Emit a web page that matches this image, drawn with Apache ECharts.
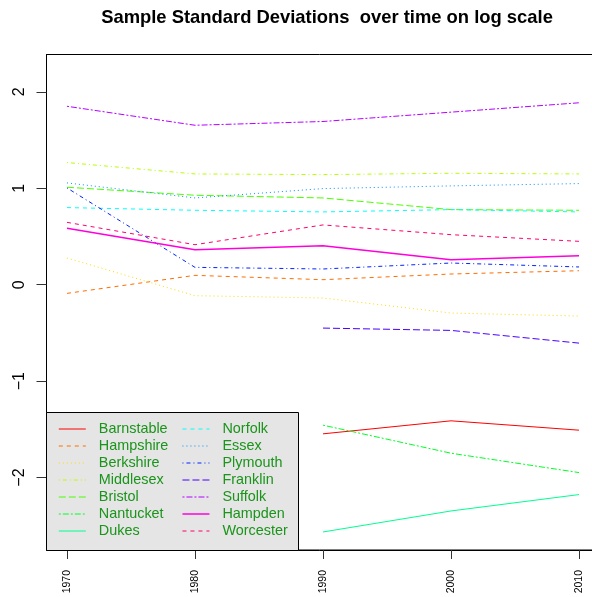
<!DOCTYPE html>
<html>
<head>
<meta charset="utf-8">
<script src="https://cdn.jsdelivr.net/npm/echarts@6/dist/echarts.min.js"></script>
<style>
  html, body { margin: 0; padding: 0; background: #fff; }
  #chart { width: 592px; height: 597px; }
</style>
</head>
<body>
<div id="chart"></div>
<script>
const years = [1970, 1980, 1990, 2000, 2010];
const yTicks = [-2, -1, 0, 1, 2];

const counties = [
  "Barnstable", "Hampshire", "Berkshire", "Middlesex", "Bristol", "Nantucket", "Dukes",
  "Norfolk", "Essex", "Plymouth", "Franklin", "Suffolk", "Hampden", "Worcester",
];

// log of sample sd, "-" where the county has no value
const barnstable = ["-", "-", -1.547, -1.412, -1.509];
const hampshire = [-0.09, 0.097, 0.052, 0.111, 0.145];
const berkshire = [0.277, -0.114, -0.138, -0.294, -0.325];
const middlesex = [1.267, 1.149, 1.142, 1.156, 1.149];
const bristol = [1.011, 0.928, 0.9, 0.779, 0.772];
const nantucket = ["-", "-", -1.457, -1.748, -1.949];
const dukes = ["-", "-", -2.565, -2.347, -2.177];
const norfolk = [0.8, 0.772, 0.755, 0.779, 0.755];
const essex = [1.056, 0.9, 0.997, 1.025, 1.049];
const plymouth = [1.004, 0.18, 0.163, 0.225, 0.184];
const franklin = ["-", "-", -0.45, -0.474, -0.606];
const suffolk = [1.851, 1.654, 1.693, 1.79, 1.887];
const hampden = [0.585, 0.363, 0.405, 0.26, 0.301];
const worcester = [0.647, 0.415, 0.62, 0.519, 0.45];

const values = [
  barnstable, hampshire, berkshire, middlesex, bristol, nantucket, dukes,
  norfolk, essex, plymouth, franklin, suffolk, hampden, worcester,
];

// rainbow(14)
const colors = [
  "#FF0000", "#FF6D00", "#FFDB00", "#B6FF00", "#49FF00", "#00FF24", "#00FF92",
  "#00FFFF", "#0092FF", "#0024FF", "#4900FF", "#B600FF", "#FF00DB", "#FF006D",
];

// R lty 1..6: solid, dashed, dotted, dotdash, longdash, twodash
const ltys = ["solid", [4, 4], [1, 3], [1, 3, 4, 3], [7, 3], [2, 2, 6, 2]];

const chart = echarts.init(document.getElementById("chart"), null, { renderer: "canvas" });

const series = counties.map((name, i) => ({
  name,
  type: "line",
  symbol: "none",
  data: years.map((yr, j) => [yr, values[i][j]]),
  lineStyle: {
    color: colors[i],
    width: name === "Hampden" ? 1.5 : 1,
    type: ltys[i % 6],
  },
  itemStyle: { color: colors[i] },
  emphasis: { disabled: true },
  animation: false,
}));

// plain line icons, drawn with the border style so they keep colour and dash
const legendItems = counties.map((name, i) => ({
  name,
  icon: "line",
  itemStyle: {
    color: colors[i],
    borderColor: colors[i],
    borderWidth: name === "Hampden" ? 1.5 : 1,
    borderType: ltys[i % 6],
    opacity: 1,
  },
}));

const legendBase = {
  orient: "vertical",
  padding: 0,
  itemWidth: 27,
  itemHeight: 17,
  itemGap: 0,
  selectedMode: false,
  textStyle: { fontSize: 14.4, color: "#1a941a", fontFamily: "Liberation Sans", padding: [0, 0, 0, 8], lineHeight: 17 },
  top: 420.5,
};

const option = {
  backgroundColor: "#fff",
  animation: false,
  title: {
    text: "Sample Standard Deviations  over time on log scale",
    left: 322,
    textAlign: "center",
    top: 4,
    textStyle: { fontSize: 18.4, fontWeight: "bold", color: "#000", fontFamily: "Liberation Sans" },
  },
  grid: {
    left: 46.5,
    top: 54.5,
    width: 553,
    height: 495.5,
    show: true,
    borderColor: "#000",
    borderWidth: 1,
    containLabel: false,
    outerBoundsMode: "none",
  },
  xAxis: {
    type: "value",
    min: 1968.4,
    max: 2011.6,
    axisLine: { show: true, onZero: false, lineStyle: { color: "#000" } },
    axisTick: { show: true, length: 9, customValues: years, lineStyle: { color: "#333" } },
    axisLabel: {
      customValues: years,
      rotate: 90,
      margin: 20,
      fontSize: 10.5,
      color: "#000",
      fontFamily: "Liberation Sans",
      formatter: (v) => String(v),
    },
    splitLine: { show: false },
  },
  yAxis: {
    type: "value",
    min: -2.752,
    max: 2.388,
    axisLine: { show: true, onZero: false, lineStyle: { color: "#000" } },
    axisTick: { show: true, length: 10, customValues: yTicks, lineStyle: { color: "#333" } },
    axisLabel: {
      customValues: yTicks,
      rotate: 90,
      margin: 19,
      fontSize: 16,
      color: "#000",
      fontFamily: "Liberation Sans",
      formatter: (v) => String(v).replace("-", "\u2212"),
    },
    splitLine: { show: false },
  },
  legend: [
    Object.assign({}, legendBase, { left: 58.3, data: legendItems.slice(0, 7) }),
    Object.assign({}, legendBase, { left: 181.7, data: legendItems.slice(7) }),
  ],
  graphic: [
    {
      type: "rect",
      z: 3,
      shape: { x: 46.5, y: 412.5, width: 252, height: 138 },
      style: { fill: "#E5E5E5", stroke: "#000", lineWidth: 1 },
    },
  ],
  series,
};

chart.setOption(option);
</script>
</body>
</html>
